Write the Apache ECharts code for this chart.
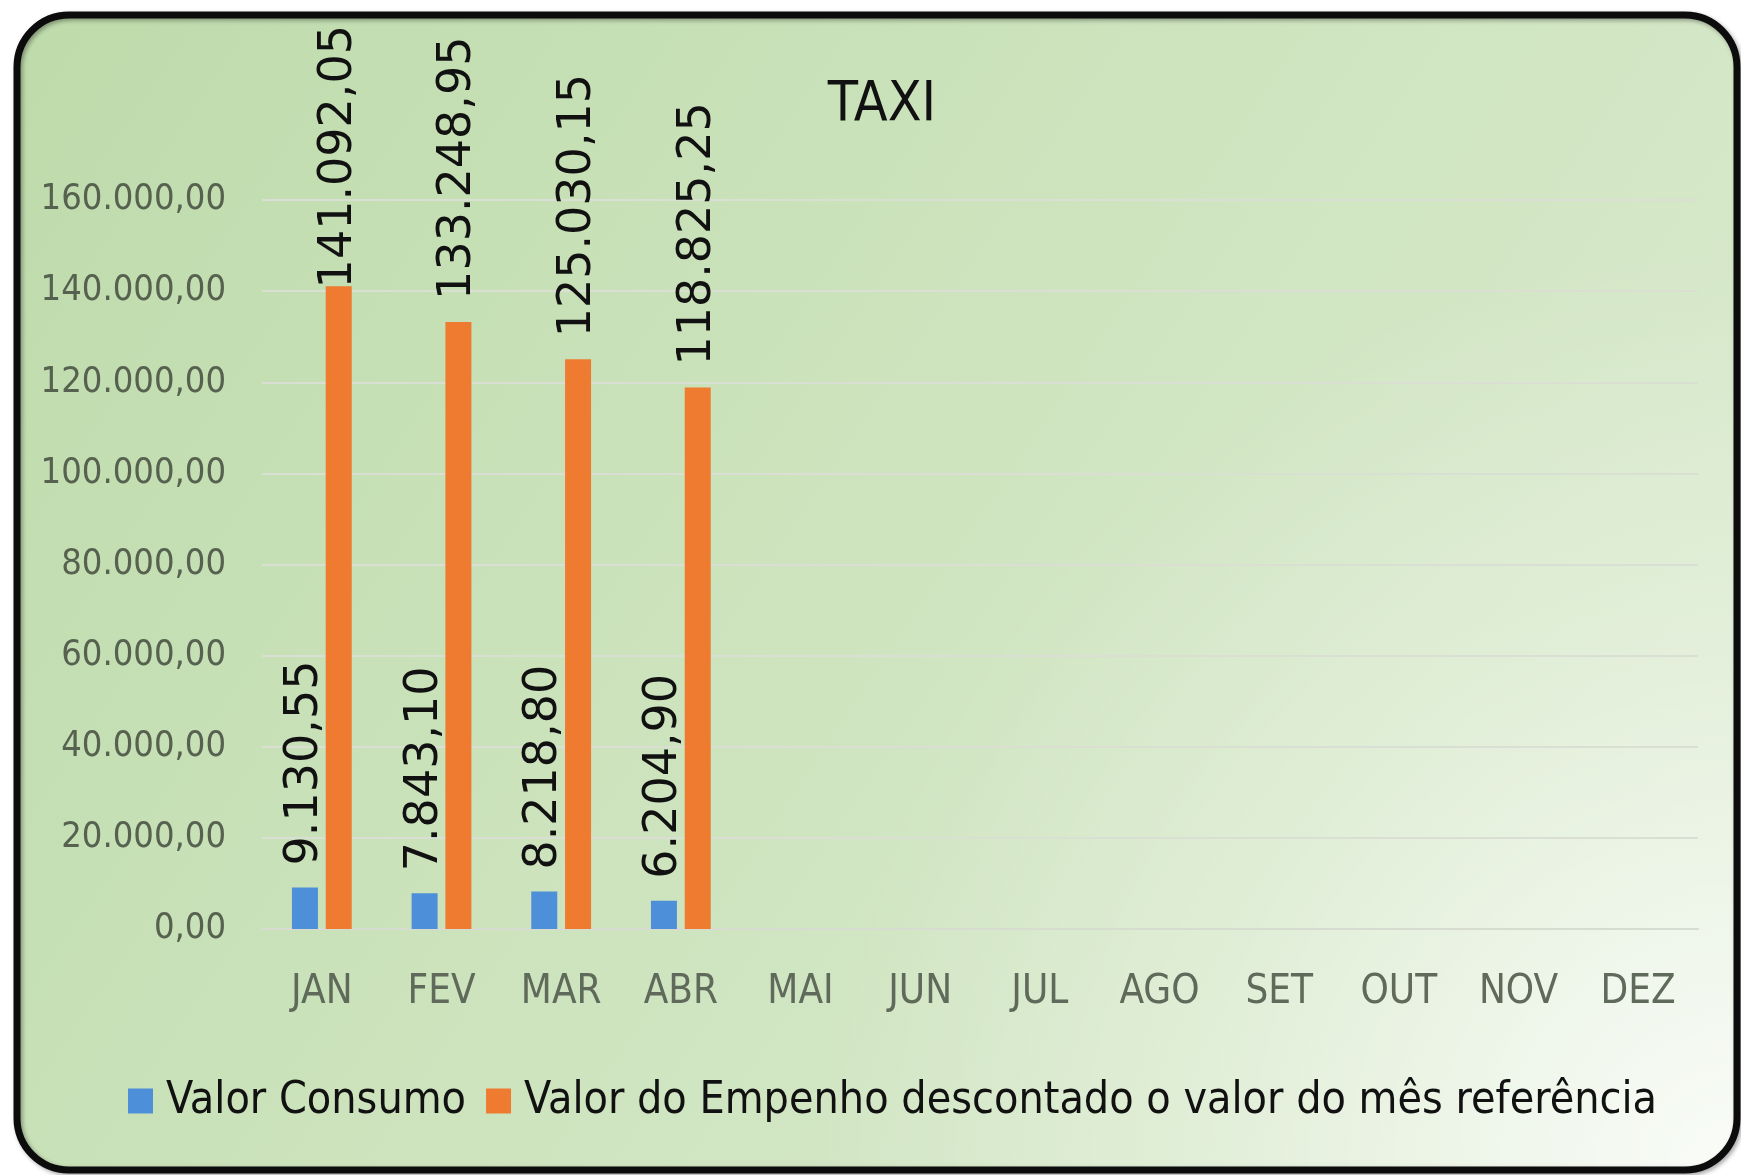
<!DOCTYPE html>
<html>
<head>
<meta charset="utf-8">
<title>TAXI</title>
<script src="https://cdn.jsdelivr.net/npm/echarts@6/dist/echarts.min.js"></script>
<style>
  html, body { margin: 0; padding: 0; background: #ffffff; }
  #chart { width: 1741px; height: 1175px; }
</style>
</head>
<body>
<div id="chart"></div>
<script>
// Months on the category axis
const months = ['JAN', 'FEV', 'MAR', 'ABR', 'MAI', 'JUN', 'JUL', 'AGO', 'SET', 'OUT', 'NOV', 'DEZ'];

// Monthly consumption (R$)
const valorConsumo = [9130.55, 7843.10, 8218.80, 6204.90, null, null, null, null, null, null, null, null];

// Commitment balance after deducting the month's consumption (R$)
const valorEmpenho = [141092.05, 133248.95, 125030.15, 118825.25, null, null, null, null, null, null, null, null];

const seriesNames = ['Valor Consumo', 'Valor do Empenho descontado o valor do mês referência'];

// Value axis range
const yMin = 0;
const yMax = 160000;
const yStep = 20000;

const narrowFont = "'DejaVu Sans Condensed', 'Liberation Sans Narrow', 'Liberation Sans', sans-serif";
const labelFont = "'DejaVu Sans', 'Noto Sans', sans-serif";

// Topmost y a value label may reach before it is pushed back down
const labelCeiling = 25;

// Brazilian number format: 141.092,05
function fmtBR(v) {
  const fixed = Math.abs(v).toFixed(2);
  const parts = fixed.split('.');
  const intPart = parts[0].replace(/\B(?=(\d{3})+(?!\d))/g, '.');
  return (v < 0 ? '-' : '') + intPart + ',' + parts[1];
}

const chart = echarts.init(document.getElementById('chart'), null, { renderer: 'canvas' });

const barLabel = {
  show: true,
  position: 'top',
  rotate: 90,
  align: 'left',
  verticalAlign: 'middle',
  distance: 22,
  color: '#111111',
  fontFamily: labelFont,
  fontSize: 46,
  formatter: function (p) { return p.value == null ? '' : fmtBR(p.value); }
};

// Keep the rotated value labels inside the frame: a label that would run
// past the ceiling is slid down toward its bar.
function keepLabelInside(params) {
  const r = params.labelRect;
  if (r && r.y < labelCeiling) {
    const shift = labelCeiling - r.y;
    return { y: r.y + r.height + shift, x: r.x + r.width / 2 };
  }
  return {};
}

const frameShape = { x: 17, y: 15, width: 1720, height: 1155, r: 52 };

const option = {
  backgroundColor: '#ffffff',
  animation: false,
  graphic: [
    {
      // green body of the panel
      type: 'rect',
      z: -10,
      silent: true,
      shape: frameShape,
      style: {
        fill: {
          type: 'linear', x: 0, y: 0, x2: 1, y2: 1,
          colorStops: [
            { offset: 0, color: '#bedbab' },
            { offset: 0.5, color: '#cee4bf' },
            { offset: 1, color: '#dcebd1' }
          ]
        }
      }
    },
    {
      // pale glow in the lower right corner
      type: 'rect',
      z: -9,
      silent: true,
      shape: frameShape,
      style: {
        fill: {
          type: 'radial', x: 1, y: 1, r: 0.8,
          colorStops: [
            { offset: 0, color: 'rgba(255,255,255,0.85)' },
            { offset: 0.55, color: 'rgba(255,255,255,0.3)' },
            { offset: 1, color: 'rgba(255,255,255,0)' }
          ]
        }
      }
    },
    {
      // dark rounded frame
      type: 'rect',
      z: -8,
      silent: true,
      shape: frameShape,
      style: {
        fill: 'none',
        stroke: '#0c0c0c',
        lineWidth: 7,
        shadowColor: 'rgba(0,0,0,0.35)',
        shadowBlur: 4,
        shadowOffsetX: 2,
        shadowOffsetY: 2
      }
    }
  ],
  title: {
    text: 'TAXI',
    left: 877,
    top: 73,
    textAlign: 'center',
    textStyle: {
      fontFamily: narrowFont,
      fontWeight: 'normal',
      fontSize: 55,
      color: '#111111'
    }
  },
  legend: {
    data: seriesNames,
    bottom: 47,
    left: 123,
    icon: 'rect',
    itemWidth: 25,
    itemHeight: 25,
    itemGap: 20,
    textStyle: {
      fontFamily: narrowFont,
      fontSize: 44.4,
      color: '#111111',
      padding: [0, 0, 0, 8]
    }
  },
  grid: {
    left: 262,
    right: 43,
    top: 200,
    bottom: 246,
    containLabel: false
  },
  xAxis: {
    type: 'category',
    data: months,
    axisLine: { show: true, lineStyle: { color: '#d6dccf', width: 2 } },
    axisTick: { show: false },
    axisLabel: {
      margin: 44,
      fontFamily: narrowFont,
      fontSize: 40,
      color: '#5f6a5a'
    }
  },
  yAxis: {
    type: 'value',
    min: yMin,
    max: yMax,
    interval: yStep,
    axisLine: { show: false },
    axisTick: { show: false },
    splitLine: { show: true, lineStyle: { color: '#d9dfd2', width: 2 } },
    axisLabel: {
      margin: 36,
      fontFamily: narrowFont,
      fontSize: 36,
      color: '#56624f',
      formatter: function (v) { return fmtBR(v); }
    }
  },
  series: [
    {
      name: seriesNames[0],
      type: 'bar',
      data: valorConsumo,
      barWidth: 26,
      barGap: '30%',
      itemStyle: { color: '#4d8fd8' },
      label: barLabel,
      labelLayout: keepLabelInside
    },
    {
      name: seriesNames[1],
      type: 'bar',
      data: valorEmpenho,
      barWidth: 26,
      barGap: '30%',
      itemStyle: { color: '#ee7b30' },
      label: barLabel,
      labelLayout: keepLabelInside
    }
  ]
};

chart.setOption(option);
</script>
</body>
</html>
